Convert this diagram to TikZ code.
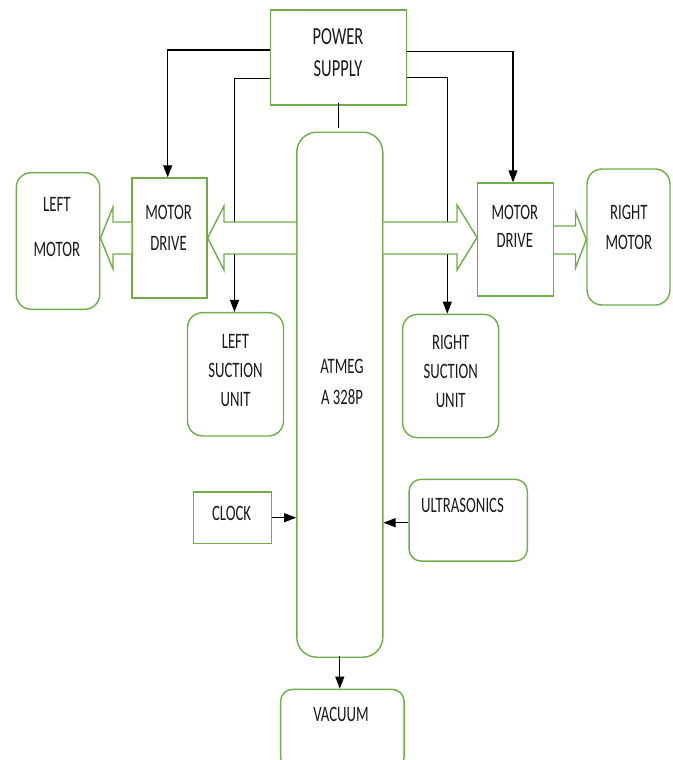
\documentclass[tikz,border=0pt]{standalone}
\usepackage{fontspec}
\setmainfont{Carlito}[FakeStretch=0.67]
\usepackage{xcolor}
\definecolor{leaf}{HTML}{70AD47}
\definecolor{ink}{HTML}{1A1A1A}
\usetikzlibrary{arrows.meta,positioning,calc}
\tikzset{
    box/.style ={rectangle, draw=leaf, line width=1.4pt, fill=white, inner sep=0pt},
    rbox/.style ={box, rounded corners=15pt},
    txt/.style ={text=ink, font=\fontsize{22}{29}\selectfont, align=center, inner sep=0pt},
    wire/.style ={draw=black, line width=1.1pt, -{Triangle[length=12pt,width=9pt]}},
    plain/.style ={draw=black, line width=1.1pt},
    blockarrow/.style={draw=leaf, line width=1.4pt, fill=white, line join=miter}
}

\begin{document}
\begin{tikzpicture}[x=1pt,y=-1pt]
      \useasboundingbox (0,0) rectangle (672,760);
      \clip (0,0) rectangle (672,760);
      % blocks
      \node[box, minimum width=136pt, minimum height=95pt] (ps) at (338.5,57.4) {};
      \node[rbox, rounded corners=20pt, minimum width=86pt, minimum height=525pt] (mcu) at (339.8,394.7) {};
      \node[rbox, minimum width=83.5pt, minimum height=136.6pt] (lmotor) at (58,241) {};
      \node[box, minimum width=75pt, minimum height=120pt] (ldrive) at (169.5,238) {};
      \node[box, minimum width=75.7pt, minimum height=113pt] (rdrive) at (515.6,239.5) {};
      \node[rbox, minimum width=83pt, minimum height=136pt] (rmotor) at (628.5,237) {};
      \node[rbox, minimum width=96pt, minimum height=123.3pt] (lsuction) at (235.5,374.3) {};
      \node[rbox, minimum width=96pt, minimum height=123.4pt] (rsuction) at (450.6,376) {};
      \node[box, minimum width=78pt, minimum height=51.3pt] (clock) at (232.5,517.7) {};
      \node[rbox, rounded corners=12pt, minimum width=118.3pt, minimum height=81.7pt] (ultra) at (468.2,520.2) {};
      \node[rbox, rounded corners=12pt, minimum width=123.5pt, minimum height=80pt] (vacuum) at (342.3,729.3) {};

      % texts
      \node[txt, font=\fontsize{24.5}{31}\selectfont] (psT) at (338,52.6) {POWER\\[1.7pt]SUPPLY};
      \node[txt] (mcuT) at (342,382) {ATMEG\\[1.5pt]A 328P};
      \node[txt] (lmotorT) at (56.8,227.5) {LEFT\\[16pt]MOTOR};
      \node[txt] (ldriveT) at (168.6,228) {MOTOR\\[1.5pt]DRIVE};
      \node[txt] (rdriveT) at (514.8,226.7) {MOTOR\\[-1pt]DRIVE};
      \node[txt] (rmotorT) at (628.8,227.7) {RIGHT\\[1pt]MOTOR};
      \node[txt] (lsuctionT) at (235.5,370.4) {LEFT\\SUCTION\\UNIT};
      \node[txt] (rsuctionT) at (450.7,371.8) {RIGHT\\SUCTION\\UNIT};
      \node[txt] (clockT) at (231.6,513.3) {CLOCK};
      \node[txt] (ultraT) at (462.5,505.5) {ULTRASONICS};
      \node[txt] (vacuumT) at (341,714.3) {VACUUM};

      % power lines
      \path[wire] ([yshift=7.4pt]ps.west) -| ([xshift=-1.8pt]ldrive.north);
      \path[wire] ([yshift=-21.3pt]ps.west) -| ([xshift=-1pt]lsuction.north);
      \path[wire] ([yshift=5.7pt]ps.east) -| ([xshift=-2.6pt]rdrive.north);
      \path[wire] ([yshift=-19.9pt]ps.east) -| ([xshift=-3.3pt]rsuction.north);
      \path[plain] ([yshift=3pt]ps.south) -- ([yshift=4pt]ps.south |- mcu.north);

      % signals
      \path[wire] (clock.east) -- (clock.east -| mcu.west);
      \path[wire] ([yshift=-2.5pt]ultra.west) -- ([yshift=-2.5pt]ultra.west -| mcu.east);
      \path[wire] ([yshift=2pt]mcu.south) -- (mcu.south |- vacuum.north);

      % block arrows
      \filldraw[blockarrow] (mcu.west |- 0,222) -- (224,222) -- (224,206) -- (ldrive.east)
          -- (224,270) -- (224,254) -- (mcu.west |- 0,254);
      \filldraw[blockarrow] (mcu.east |- 0,222) -- (457,222) -- (457,205) -- ([yshift=2pt]rdrive.west)
          -- (457,270) -- (457,254) -- (mcu.east |- 0,254);
      \filldraw[blockarrow] (ldrive.west |- 0,222) -- (113,222) -- (113,207) -- (lmotor.east |- ldrive.east)
          -- (113,269) -- (113,254) -- (ldrive.west |- 0,254);
      \filldraw[blockarrow] (rdrive.east |- 0,226) -- (575.5,226) -- (575.5,212) -- (rmotor.west |- rdrive.east)
          -- (575.5,268) -- (575.5,254) -- (rdrive.east |- 0,254);
\end{tikzpicture}
\end{document}
